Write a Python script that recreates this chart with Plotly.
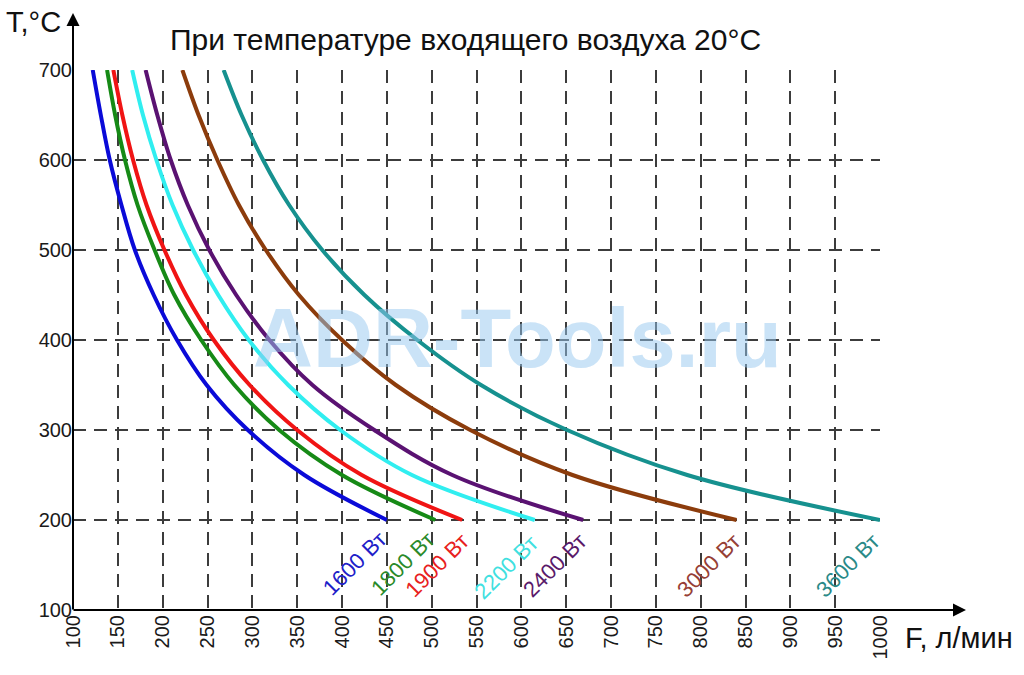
import plotly.graph_objects as go

# ---- data ----
temps = [700, 650, 600, 550, 500, 450, 400, 350, 300, 250, 200]
flow_1600 = [122, 131, 141, 154, 169, 190, 216, 249, 295, 358, 450]
flow_1800 = [138, 147, 158, 172, 191, 213, 243, 280, 330, 400, 504]
flow_1900 = [145, 155, 167, 182, 202, 226, 257, 297, 350, 422, 534]
flow_2200 = [166, 178, 193, 211, 234, 262, 296, 340, 398, 478, 615]
flow_2400 = [181, 194, 209, 228, 252, 282, 319, 367, 436, 523, 669]
flow_3000 = [222, 240, 261, 285, 315, 352, 400, 460, 543, 657, 840]
flow_3600 = [268, 288, 312, 341, 378, 425, 484, 555, 651, 785, 1000]

series_names = ["1600 Вт", "1800 Вт", "1900 Вт", "2200 Вт", "2400 Вт", "3000 Вт", "3600 Вт"]
series_flows = [flow_1600, flow_1800, flow_1900, flow_2200, flow_2400, flow_3000, flow_3600]
series_colors = ["#0a0ad8", "#168a16", "#f01414", "#30eef0", "#5a1272", "#8c3c0c", "#16918f"]
label_colors = ["#2020c8", "#2a8a2a", "#e82020", "#40e0e0", "#5a1a6a", "#964036", "#2a8a88"]
label_x = [414, 468, 506, 583, 637, 809, 964]
label_y = [152, 152, 149, 147, 150, 150, 150]

x_ticks = list(range(100, 1001, 50))
y_ticks = list(range(100, 701, 100))

FONT = "Liberation Sans, Arial"

fig = go.Figure()
for name, fl, col in zip(series_names, series_flows, series_colors):
    fig.add_trace(go.Scatter(x=fl, y=temps, mode="lines", name=name,
                             line=dict(color=col, width=4, shape="spline", smoothing=1.0),
                             showlegend=False, hoverinfo="x+y+name"))

annotations = []
for name, lx, ly, lc in zip(series_names, label_x, label_y, label_colors):
    annotations.append(dict(x=lx, y=ly, xref="x", yref="y", text=name, showarrow=False,
                            textangle=-45, font=dict(size=22, color=lc, family=FONT)))

# axis arrows
annotations.append(dict(x=(966 - 73) / 807, y=0, xref="paper", yref="paper", text="",
                        showarrow=True, ax=-(966 - 73 + 1), ay=0,
                        arrowhead=2, arrowsize=1.3, arrowwidth=2, arrowcolor="black"))
annotations.append(dict(x=0, y=(610 - 13) / 540, xref="paper", yref="paper", text="",
                        showarrow=True, ax=0, ay=(610 - 13) + 1, arrowhead=2, arrowsize=1.3,
                        arrowwidth=2, arrowcolor="black"))
# axis titles
annotations.append(dict(x=(4 - 73) / 807, y=(610 - 22) / 540, xref="paper", yref="paper",
                        text="T,°C", showarrow=False, xanchor="left", yanchor="middle",
                        font=dict(size=29, color="#111", family=FONT)))
annotations.append(dict(x=(903 - 73) / 807, y=(610 - 638) / 540, xref="paper", yref="paper",
                        text="F, л/мин", showarrow=False, xanchor="left", yanchor="middle",
                        font=dict(size=29, color="#111", family=FONT)))
# title
annotations.append(dict(x=(465 - 73) / 807, y=(610 - 39) / 540, xref="paper", yref="paper",
                        text="При температуре входящего воздуха 20°C", showarrow=False,
                        xanchor="center", yanchor="middle",
                        font=dict(size=30, color="#111", family=FONT)))
# watermark
annotations.append(dict(x=(517 - 73) / 807, y=(610 - 338) / 540, xref="paper", yref="paper",
                        text="<b>ADR-Tools.ru</b>", showarrow=False, xanchor="center", yanchor="middle",
                        font=dict(size=83, color="rgba(150,200,240,0.5)", family=FONT)))

fig.update_layout(
    width=1024, height=675,
    margin=dict(l=73, r=144, t=70, b=65),
    paper_bgcolor="white", plot_bgcolor="white",
    annotations=annotations,
    xaxis=dict(range=[100, 1000], tickvals=x_ticks, ticktext=[str(v) for v in x_ticks],
               tickangle=-90, showgrid=True, gridcolor="#3c3c3c", gridwidth=1.5, griddash="13px,8px",
               zeroline=False, showline=False, ticks="",
               tickfont=dict(size=20, color="#1a1a1a", family=FONT)),
    yaxis=dict(range=[100, 700], tickvals=y_ticks, ticktext=[str(v) for v in y_ticks],
               showgrid=True, gridcolor="#3c3c3c", gridwidth=1.5, griddash="13px,8px",
               zeroline=False, showline=False, ticks="",
               tickfont=dict(size=20, color="#1a1a1a", family=FONT)),
)

fig.write_html("out.html")
